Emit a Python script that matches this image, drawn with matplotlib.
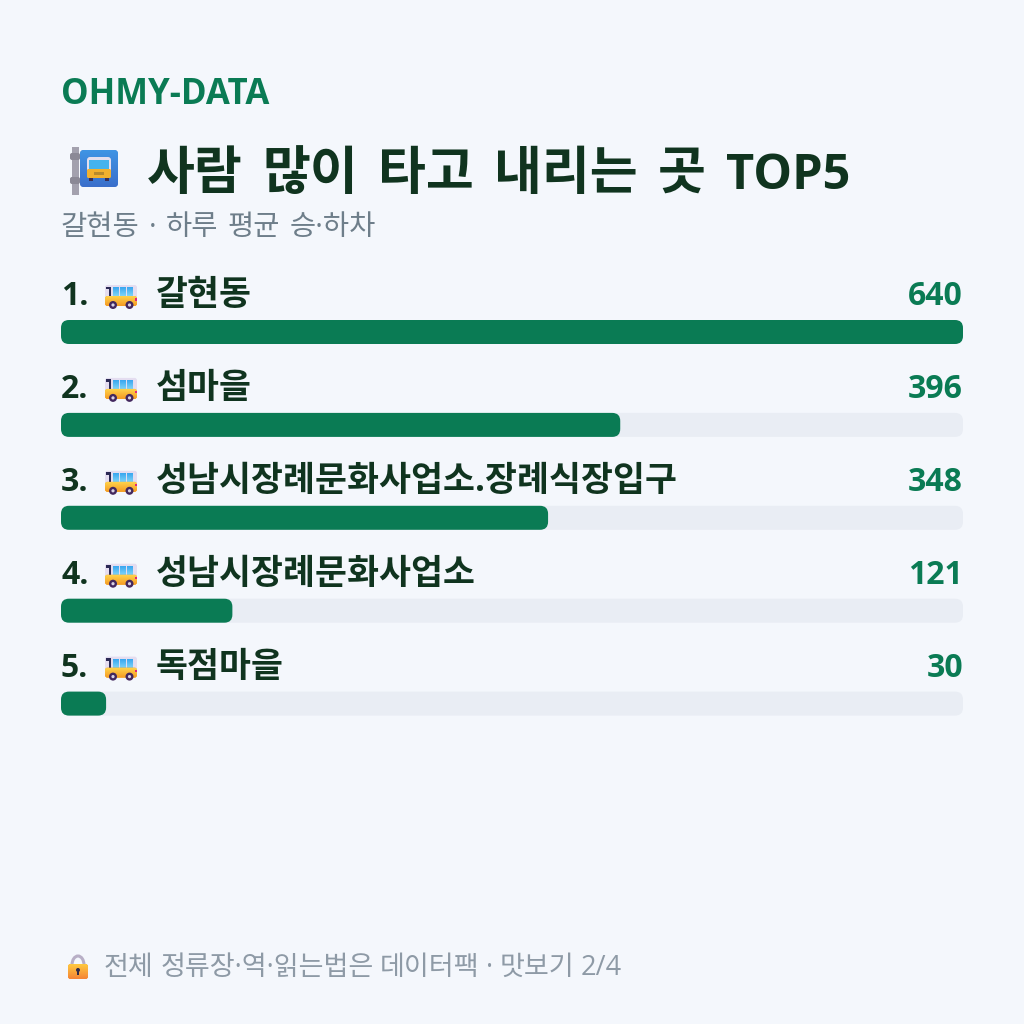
import numpy as np
from matplotlib import pyplot as plt
from matplotlib.patches import FancyBboxPatch, Rectangle, Circle, Arc

plt.rcParams['font.family'] = ['Open Sans', 'Noto Sans CJK KR', 'DejaVu Sans']

stops = ["갈현동", "섬마을", "성남시장례문화사업소.장례식장입구", "성남시장례문화사업소", "독점마을"]
counts = [640, 396, 348, 121, 30]

brand = "OHMY-DATA"
title = "사람 많이 타고 내리는 곳 TOP5"
subtitle = "갈현동 · 하루 평균 승·하차"
footer = "전체 정류장·역·읽는법은 데이터팩 · 맛보기 2/4"

BG = "#F4F7FC"
GREEN = "#0A7B54"
TRACK = "#E9EDF4"
DARK = "#10341F"
LEFT, RIGHT = 61, 963

fig = plt.figure(figsize=(10.24, 10.24), dpi=100, facecolor=BG)
ax = fig.add_axes([0, 0, 1, 1])
ax.set_facecolor(BG)
ax.axis("off")
ax.set_xlim(0, 1024)
ax.set_ylim(1024, 0)


def round_box(x, y, w, h, r, color, z=2):
    p = FancyBboxPatch((x + r, y + r), w - 2*r, h - 2*r,
                       boxstyle="round,pad=%g,rounding_size=%g" % (r, r),
                       fc=color, ec="none", zorder=z)
    ax.add_patch(p)
    return p


def gradient(patch, x, y, w, h, top, bottom, z=3):
    c0 = np.array(plt.matplotlib.colors.to_rgb(top))
    c1 = np.array(plt.matplotlib.colors.to_rgb(bottom))
    t = np.linspace(0, 1, 32)[:, None, None]
    im = ax.imshow(c0 + (c1 - c0)*t, extent=(x, x + w, y + h, y),
                   aspect="auto", zorder=z, interpolation="bilinear")
    im.set_clip_path(patch)


def spaced_text(x, y, s, gap, size, latin_size=None, **kw):
    # the CJK font has a narrow space, so words are laid out one at a time
    rend = fig.canvas.get_renderer()
    for word in s.split(" "):
        fs = latin_size if latin_size and word.isascii() and len(word) > 1 else size
        t = ax.text(x, y, word, fontsize=fs, va="baseline", **kw)
        x += t.get_window_extent(rend).width + gap


def bus_icon(x, y):
    # side view of the bus, about 32 x 24 px
    round_box(x, y, 32, 17, 2.5, "#E4DDF0", 3)
    ax.add_patch(Rectangle((x + 1, y + 1.5), 5, 2.5, fc="#2B2A55", ec="none", zorder=4))
    ax.add_patch(Rectangle((x + 3.5, y + 4), 2.5, 7, fc="#2B2A55", ec="none", zorder=4))
    for wx in (x + 7.5, x + 14.5, x + 21.5):
        w = FancyBboxPatch((wx, y + 2), 6, 9, boxstyle="square,pad=0", fc="#45B0F2", ec="none", zorder=4)
        ax.add_patch(w)
        gradient(w, wx, y + 2, 6, 9, "#38A6F0", "#7FD4F7", 4.5)
    body = round_box(x, y + 11, 32, 10, 2.5, "#F5A623", 5)
    gradient(body, x, y + 11, 32, 10, "#FFD24A", "#F59A23", 5.5)
    ax.add_patch(Rectangle((x + 30, y + 13), 2, 2.5, fc="#E0267A", ec="none", zorder=6))
    for cx in (x + 8, x + 24.5):
        ax.add_patch(Circle((cx, y + 20), 4, fc="#43285E", ec="none", zorder=7))
        ax.add_patch(Circle((cx, y + 20), 1.6, fc="#D9D2E4", ec="none", zorder=8))


def stop_icon(x, y):
    # bus stop sign: pole with a blue plate and a front-on bus
    ax.add_patch(Rectangle((x + 2, y), 7, 48, fc="#A3A1AE", ec="none", zorder=3))
    round_box(x, y + 6, 10, 7, 2, "#8B8996", 3)
    round_box(x, y + 30, 10, 7, 2, "#8B8996", 3)
    plate = round_box(x + 10, y + 3, 38, 37, 4, "#3D7FD6", 4)
    gradient(plate, x + 10, y + 3, 38, 37, "#3F94E4", "#3A6FCB", 5)
    round_box(x + 17, y + 10, 24, 21, 3, "#E3DEEE", 6)
    ax.add_patch(Rectangle((x + 19, y + 13), 20, 9, fc="#45B3EE", ec="none", zorder=7))
    round_box(x + 17, y + 22, 24, 9, 1.5, "#F2B12E", 7)
    ax.add_patch(Rectangle((x + 24, y + 25), 10, 3, fc="#B98A2B", ec="none", zorder=8))
    ax.add_patch(Rectangle((x + 19, y + 31), 4, 2.5, fc="#3A2E55", ec="none", zorder=6))
    ax.add_patch(Rectangle((x + 35, y + 31), 4, 2.5, fc="#3A2E55", ec="none", zorder=6))


def lock_icon(x, y):
    ax.add_patch(Arc((x + 10, y + 10), 12, 18, theta1=180, theta2=360, ec="#B8AFC6", lw=2.2, zorder=3))
    body = round_box(x, y + 9, 20, 15, 2.5, "#F79A2E", 4)
    gradient(body, x, y + 9, 20, 15, "#FFC93F", "#F58436", 5)
    ax.add_patch(Circle((x + 10, y + 15), 2, fc="#2F2A4A", ec="none", zorder=6))
    ax.add_patch(Rectangle((x + 9.2, y + 15), 1.6, 5, fc="#2F2A4A", ec="none", zorder=6))


ax.text(LEFT, 104, brand, fontsize=25, fontweight="bold", color=GREEN, va="baseline")
stop_icon(70, 147)
spaced_text(147, 189, title, 20, 37.5, latin_size=35, fontweight="bold", color=DARK)
spaced_text(LEFT, 235, subtitle, 9.25, 20.5, color="#6E7E8A")

# each bar fills a whole percent of the track, relative to the largest value
max_count = max(counts)
for i, (name, n) in enumerate(zip(stops, counts)):
    top = 320 + i*92.9
    ax.text(LEFT, top - 15, "%d." % (i + 1), fontsize=23, fontweight="bold", color=DARK, va="baseline")
    bus_icon(105, top - 35)
    ax.text(156, top - 15, name, fontsize=25, fontweight="bold", color=DARK, va="baseline")
    ax.text(RIGHT, top - 15, str(n), fontsize=23, fontweight="bold", color=GREEN, va="baseline", ha="right")
    round_box(LEFT, top, RIGHT - LEFT, 24, 8, TRACK, 2)
    w = round(n / max_count * 100) / 100 * (RIGHT - LEFT)
    round_box(LEFT, top, w, 24, 8, GREEN, 3)

lock_icon(68, 955)
spaced_text(104, 975, footer, 6.5, 19.5, color="#8E9AA6")

ax.set_xlim(0, 1024)
ax.set_ylim(1024, 0)
fig.savefig("out.png", dpi=100, facecolor=BG)
